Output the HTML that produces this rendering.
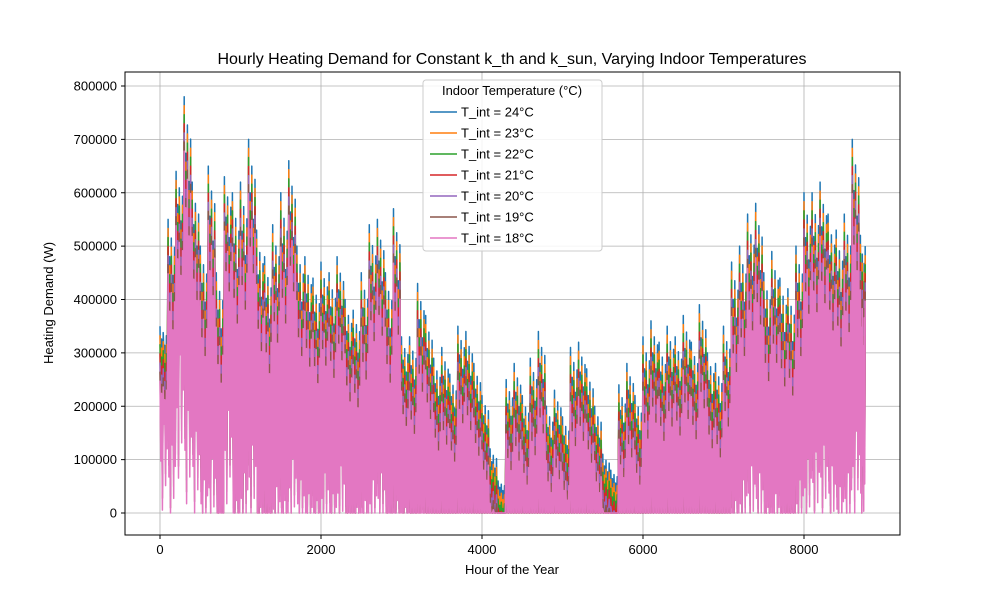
<!DOCTYPE html>
<html><head><meta charset="utf-8"><style>
html,body{margin:0;padding:0;background:#fff}
svg{display:block;font-family:"Liberation Sans","DejaVu Sans",sans-serif}
</style></head><body>
<svg id="chart" width="1000" height="600" viewBox="0 0 1000 600">
<rect x="0" y="0" width="1000" height="600" fill="#fff"/>
<text x="512" y="64" text-anchor="middle" font-size="16">Hourly Heating Demand for Constant k_th and k_sun, Varying Indoor Temperatures</text>
<g id="grid"></g>
<defs><clipPath id="clip"><rect x="125" y="72" width="775" height="463"/></clipPath></defs>
<g id="series" clip-path="url(#clip)"></g>
<rect x="125" y="72" width="775" height="463" fill="none" stroke="#000" stroke-width="1"/>
<g id="ticks"></g>
<text x="512" y="574" text-anchor="middle" font-size="13">Hour of the Year</text>
<text transform="translate(53,303) rotate(-90)" text-anchor="middle" font-size="13">Heating Demand (W)</text>
<g id="legend">
<rect x="423" y="80" width="179" height="171" rx="3" fill="#fff" fill-opacity="0.85" stroke="#ccc"/>
<text x="512" y="95" text-anchor="middle" font-size="13">Indoor Temperature (°C)</text>
</g>
</svg>
<script>
const hours=[0,100,200,300,400,500,600,700,800,900,1000,1100,1200,1300,1400,1500,1600,1700,1800,1900,2000,2100,2200,2300,2400,2500,2600,2700,2800,2900,3000,3100,3200,3300,3400,3500,3600,3700,3800,3900,4000,4100,4200,4300,4400,4500,4600,4700,4800,4900,5000,5100,5200,5300,5400,5500,5600,5700,5800,5900,6000,6100,6200,6300,6400,6500,6600,6700,6800,6900,7000,7100,7200,7300,7400,7500,7600,7700,7800,7900,8000,8100,8200,8300,8400,8500,8600,8700,8760];
const peaks=[350000,550000,640000,780000,620000,500000,650000,450000,630000,600000,620000,700000,530000,480000,540000,600000,660000,500000,480000,440000,470000,450000,480000,400000,380000,450000,540000,550000,450000,570000,330000,330000,430000,370000,290000,310000,260000,350000,340000,280000,220000,120000,60000,250000,280000,220000,290000,340000,200000,230000,180000,310000,320000,270000,200000,110000,80000,240000,280000,220000,330000,360000,320000,350000,330000,370000,320000,390000,300000,280000,350000,470000,500000,560000,580000,450000,490000,440000,420000,500000,600000,600000,620000,560000,530000,560000,700000,520000,500000];
const troughs=[230000,200000,330000,250000,220000,150000,180000,100000,250000,120000,160000,200000,110000,90000,140000,120000,180000,150000,130000,120000,160000,130000,170000,100000,110000,120000,150000,160000,100000,120000,110000,60000,90000,60000,50000,40000,50000,80000,60000,40000,30000,0,0,20000,10000,0,20000,40000,0,10000,0,30000,40000,20000,0,0,0,0,30000,0,30000,60000,40000,60000,50000,60000,50000,80000,40000,30000,60000,120000,150000,170000,160000,110000,130000,100000,90000,150000,180000,190000,200000,170000,140000,160000,220000,170000,180000];
const labels=["T_int = 24°C","T_int = 23°C","T_int = 22°C","T_int = 21°C","T_int = 20°C","T_int = 19°C","T_int = 18°C"];
const drops=[0,17000,34000,51000,68000,85000,102000];
const colors=["#1f77b4","#ff7f0e","#2ca02c","#d62728","#9467bd","#8c564b","#e377c2"];
const xTicks=[0,2000,4000,6000,8000];
const yTicks=[0,100000,200000,300000,400000,500000,600000,700000,800000];
const X=h=>160+h*0.0805, Y=v=>513-v*0.00053375;
const NS="http://www.w3.org/2000/svg";
const grid=document.getElementById('grid'),ticks=document.getElementById('ticks');
function mk(t,a,p){const e=document.createElementNS(NS,t);for(const k in a)e.setAttribute(k,a[k]);p.appendChild(e);return e;}
xTicks.forEach(t=>{
 const g=mk('line',{x1:X(t),x2:X(t),y1:72,y2:535,stroke:'#b0b0b0','stroke-width':0.8},grid);
 
 
 mk('line',{x1:X(t),x2:X(t),y1:535,y2:539,stroke:'#000'},ticks);
 const l=mk('text',{x:X(t),y:554,'text-anchor':'middle','font-size':13},ticks);l.textContent=t;
 
 
});
yTicks.forEach(t=>{
 const g=mk('line',{x1:125,x2:900,y1:Y(t),y2:Y(t),stroke:'#b0b0b0','stroke-width':0.8},grid);
 
 
 mk('line',{x1:121,x2:125,y1:Y(t),y2:Y(t),stroke:'#000'},ticks);
 const l=mk('text',{x:117,y:Y(t)+4.5,'text-anchor':'end','font-size':13},ticks);l.textContent=t;
 
 
});
const sg=document.getElementById('series');
const osc=5;
const pvary=[1,0.8,0.9,0.7,0.85];
const tvary=[1,0.6,1.3,0.8,1.1];
labels.forEach((lab,k)=>{
 let d='';
 for(let i=0;i<hours.length-1;i++){
  const h0=hours[i],h1=hours[i+1];
  for(let j=0;j<osc;j++){
   const hp=h0+(h1-h0)*j/osc, ht=h0+(h1-h0)*(j+0.5)/osc;
   const span=peaks[i]-troughs[i];
   const pv=Math.max(0,troughs[i]+span*pvary[j]-drops[k]);
   const tv=Math.max(0,troughs[i]*tvary[j]-drops[k]*1.3);
   d+=(d?'L':'M')+X(hp).toFixed(1)+','+Y(pv).toFixed(1)+'L'+X(ht).toFixed(1)+','+Y(tv).toFixed(1);
  }
 }
 const last=hours.length-1;
 d+='L'+X(hours[last]).toFixed(1)+','+Y(Math.max(0,peaks[last]-drops[k])).toFixed(1);
 const p=mk('path',{d:d,fill:'none',stroke:colors[k],'stroke-width':1.5,'stroke-linejoin':'round'},sg);
 
 
 const lg=document.getElementById('legend');
 const y=112+k*21;
 const ln=mk('line',{x1:430,x2:457,y1:y,y2:y,stroke:colors[k],'stroke-width':1.5},lg);
 
 
 const tx=mk('text',{x:461,y:y+4.5,'font-size':13},lg);tx.textContent=lab;
 
 
});
</script>
</body></html>
